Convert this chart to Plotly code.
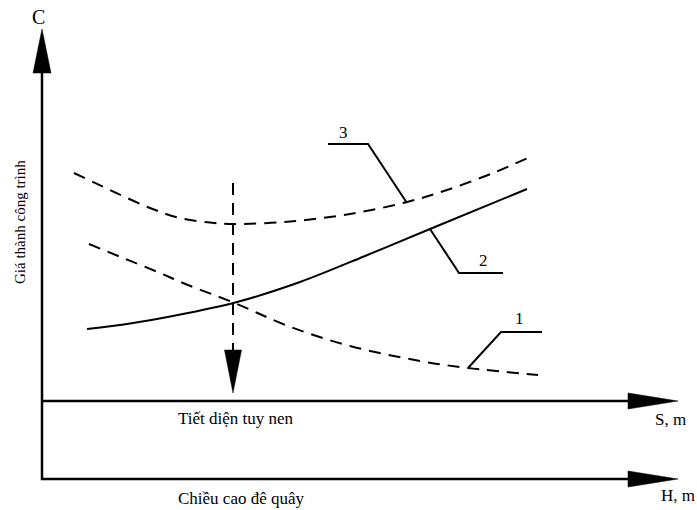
import plotly.graph_objects as go

# ---- data (schematic, pixel-like units) ----
curve1_x = [89, 123, 160, 183, 237, 288, 350, 420, 468, 538]
curve1_y = [244, 258, 273, 283, 304, 326, 346, 361, 368, 375]

curve2_x = [87, 130, 173, 237, 300, 365, 430, 527]
curve2_y = [329, 323.5, 316, 302, 282, 256, 229, 189]

curve3_x = [74, 110, 150, 180, 210, 233, 290, 350, 407, 447, 493, 530]
curve3_y = [173, 190, 208, 218, 222.5, 224, 221.5, 214, 202, 190, 173, 157]

optimum_x = 233
optimum_top = 183
optimum_base = 350
optimum_tip = 393

curve_labels = ["1", "2", "3"]
axis_title_y = "Giá thành công trình"
axis_c = "C"
axis_s = "S, m"
axis_h = "H, m"
label_s = "Tiết diện tuy nen"
label_h = "Chiều cao đê quây"

# leader lines for curve labels
leader1_x = [468, 501, 542]
leader1_y = [368, 332, 332]
leader2_x = [430, 459, 503]
leader2_y = [229, 273, 273]
leader3_x = [328, 368, 407]
leader3_y = [144, 144, 203]

FONT = "Liberation Serif"
fig = go.Figure()

def line(x, y, dash=None, width=2, shape="linear"):
    fig.add_trace(go.Scatter(x=x, y=y, mode="lines", hoverinfo="skip",
                             line=dict(color="black", width=width, dash=dash, shape=shape)))

def poly(x, y):
    fig.add_trace(go.Scatter(x=x, y=y, mode="lines", fill="toself", fillcolor="black",
                             hoverinfo="skip", line=dict(color="black", width=0.5)))

# axes
line([42, 42, 632], [72, 479, 479], width=2.5)
line([42, 632], [401, 401], width=2.5)
poly([42, 33, 51, 42], [29, 73, 73, 29])
poly([628, 678, 628, 628], [393, 401, 409, 393])
poly([628, 678, 628, 628], [471, 479, 487, 471])

# curves
line(curve1_x, curve1_y, dash="12px,8px", shape="spline")
line(curve2_x, curve2_y, shape="spline")
line(curve3_x, curve3_y, dash="12px,8px", shape="spline")

# optimum vertical dashed with arrow
line([optimum_x, optimum_x], [optimum_top, optimum_base], dash="12px,8px")
poly([optimum_x - 8.5, optimum_x + 8.5, optimum_x, optimum_x - 8.5],
     [optimum_base, optimum_base, optimum_tip, optimum_base])

# leaders
line(leader1_x, leader1_y)
line(leader2_x, leader2_y)
line(leader3_x, leader3_y)

def txt(x, y, s, size=17, angle=0):
    fig.add_annotation(x=x, y=y, text=s, showarrow=False, textangle=angle,
                       font=dict(family=FONT, size=size, color="black"),
                       xref="x", yref="y")

txt(519, 318, curve_labels[0])
txt(483, 260, curve_labels[1])
txt(343, 132, curve_labels[2])
txt(38, 17, axis_c, size=20)
txt(670, 419, axis_s)
txt(678, 495, axis_h)
txt(236, 418, label_s)
txt(241, 498, label_h)
txt(20, 222, axis_title_y, size=15, angle=-90)

fig.update_layout(
    width=697, height=510, autosize=False,
    margin=dict(l=0, r=0, t=0, b=0),
    paper_bgcolor="white", plot_bgcolor="white",
    showlegend=False,
    xaxis=dict(range=[0, 697], visible=False, fixedrange=True),
    yaxis=dict(range=[510, 0], visible=False, fixedrange=True),
)
fig.write_html("out.html", config={"displayModeBar": False},
               post_script="document.body.style.margin='0px';document.body.style.overflow='hidden';")
